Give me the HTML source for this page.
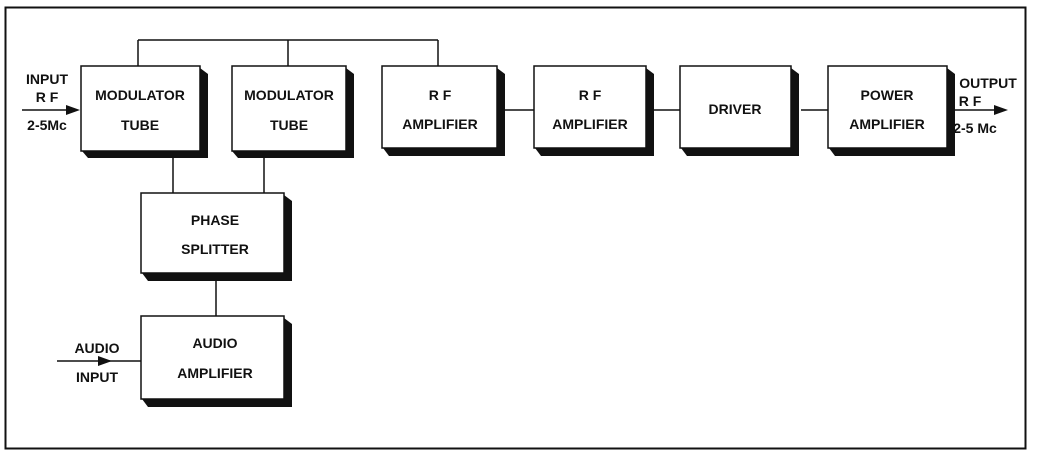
<!DOCTYPE html>
<html><head><meta charset="utf-8"><style>
html,body{margin:0;padding:0;background:#fff;}
svg text{font-family:"Liberation Sans",sans-serif;font-weight:bold;font-size:14px;fill:#111;text-anchor:middle;}
</style></head><body>
<svg width="1049" height="463" viewBox="0 0 1049 463" xmlns="http://www.w3.org/2000/svg">
<rect x="5.5" y="7.5" width="1020" height="441" fill="none" stroke="#111" stroke-width="2"/>
<g stroke="#111" stroke-width="1.5" fill="none">
<path d="M138 40 H438 M138 40 V66 M288 40 V66 M438 40 V66"/>
<path d="M173 155 V193 M264 155 V193 M216 280 V316"/>
<path d="M505 110 H534 M654 110 H680 M801 110 H828"/>
<path d="M22 110 H70 M952 110 H995 M57 361 H141"/>
</g>
<g fill="#111">
<polygon points="80,110 66,105 66,115"/>
<polygon points="1008,110 994,105 994,115"/>
<polygon points="112,361 98,356 98,366"/>
</g>
<g fill="#111">
<polygon points="200,68 208,74 208,158 88,158 82,151 200,151"/>
<polygon points="346,68 354,74 354,158 238,158 232,151 346,151"/>
<polygon points="497,68 505,74 505,156 389,156 383,148 497,148"/>
<polygon points="646,68 654,74 654,156 541,156 535,148 646,148"/>
<polygon points="791,68 799,74 799,156 687,156 681,148 791,148"/>
<polygon points="947,68 955,74 955,156 835,156 829,148 947,148"/>
<polygon points="284,195 292,201 292,281 148,281 142,273 284,273"/>
<polygon points="284,318 292,324 292,407 148,407 142,399 284,399"/>
</g>
<g fill="#fff" stroke="#111" stroke-width="1.5">
<rect x="81" y="66" width="119" height="85"/>
<rect x="232" y="66" width="114" height="85"/>
<rect x="382" y="66" width="115" height="82"/>
<rect x="534" y="66" width="112" height="82"/>
<rect x="680" y="66" width="111" height="82"/>
<rect x="828" y="66" width="119" height="82"/>
<rect x="141" y="193" width="143" height="80"/>
<rect x="141" y="316" width="143" height="83"/>
</g>
<text x="140" y="100">MODULATOR</text><text x="140" y="130">TUBE</text>
<text x="289" y="100">MODULATOR</text><text x="289" y="130">TUBE</text>
<text x="440" y="100">R F</text><text x="440" y="129">AMPLIFIER</text>
<text x="590" y="100">R F</text><text x="590" y="129">AMPLIFIER</text>
<text x="735" y="114">DRIVER</text>
<text x="887" y="100">POWER</text><text x="887" y="129">AMPLIFIER</text>
<text x="215" y="225">PHASE</text><text x="215" y="254">SPLITTER</text>
<text x="215" y="348">AUDIO</text><text x="215" y="378">AMPLIFIER</text>
<text x="47" y="84">INPUT</text><text x="47" y="102">R F</text><text x="47" y="130">2-5Mc</text>
<text x="988" y="88">OUTPUT</text><text x="970" y="106">R F</text><text x="975" y="133">2-5 Mc</text>
<text x="97" y="353">AUDIO</text><text x="97" y="382">INPUT</text>
</svg>
</body></html>
